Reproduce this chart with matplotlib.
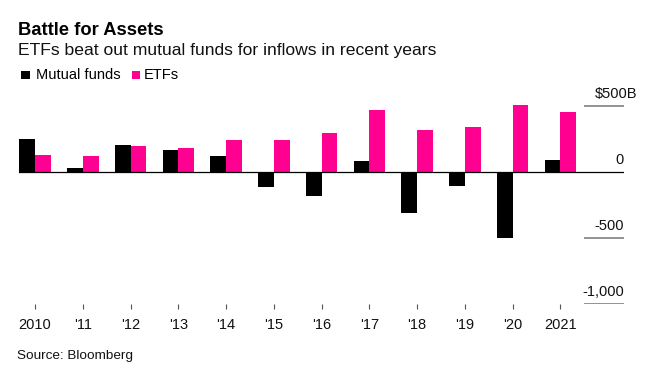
import matplotlib
matplotlib.use("Agg")
import matplotlib.pyplot as plt
import numpy as np
from matplotlib.patches import Rectangle

plt.rcParams['font.family'] = ['Liberation Sans', 'DejaVu Sans']

# Data (billions USD)
years = ["2010", "'11", "'12", "'13", "'14", "'15", "'16", "'17", "'18", "'19", "'20", "2021"]
mutual_funds = [249, 30, 204, 161, 121, -118, -186, 78, -312, -111, -500, 90]
etfs = [128, 121, 196, 181, 241, 241, 294, 467, 317, 337, 505, 452]
y_ticks = [500, 0, -500, -1000]
y_tick_labels = ["$500B", "0", "-500", "-1,000"]

BLACK = "#000000"
PINK = "#ff0090"
GRID = "#8a8a8a"

W, H = 646, 375
fig = plt.figure(figsize=(W / 100, H / 100), dpi=100)

# axes placement in pixels (from top-left)
ax_left, ax_right = 19, 624
y_min, y_max = -1000, 600
px_per_unit = 0.132
zero_px = 171.7
top_px = zero_px - y_max * px_per_unit
bot_px = zero_px - y_min * px_per_unit
ax = fig.add_axes([ax_left / W, 1 - bot_px / H, (ax_right - ax_left) / W, (bot_px - top_px) / H])

x = np.arange(len(years))
bw = 0.33
ax.bar(x - bw / 2, mutual_funds, width=bw, color=BLACK, linewidth=0, zorder=2)
ax.bar(x + bw / 2, etfs, width=bw, color=PINK, linewidth=0, zorder=2)

x_lo, x_hi = -0.335, 12.33
ax.set_xlim(x_lo, x_hi)
ax.set_ylim(y_min, y_max)

# zero line across the plot, short grey gridlines on the right
ax.axhline(0, color=BLACK, linewidth=0.9, zorder=3)
grid_x0 = 11.49
for v in y_ticks:
    if v != 0:
        ax.hlines(v, grid_x0, x_hi, color=GRID, linewidth=1.3, zorder=1)

for v, lab in zip(y_ticks, y_tick_labels):
    dx = 9.5 if lab.endswith("B") else 0
    ax.annotate(lab, xy=(x_hi, v), xytext=(dx, 5.8), textcoords="offset points",
                ha="right", va="baseline", fontsize=10.5, color="#111111")

for s in ax.spines.values():
    s.set_visible(False)
ax.set_yticks([])
ax.set_xticks(x)
ax.set_xticklabels(years, fontsize=10.5, color="#111111")
ax.tick_params(axis="x", length=3.6, width=0.8, color="#555555", pad=6.5)

# titles
fig.text(18 / W, 1 - 35 / H, "Battle for Assets", fontsize=13.2, fontweight="bold",
         ha="left", va="baseline")
fig.text(18 / W, 1 - 55 / H, "ETFs beat out mutual funds for inflows in recent years",
         fontsize=12.6, ha="left", va="baseline", color="#111111")

# legend
fig.patches.append(Rectangle((20.7 / W, 1 - 79.3 / H), 9.3 / W, 8.6 / H,
                             transform=fig.transFigure, facecolor=BLACK, edgecolor="none"))
fig.text(35.5 / W, 1 - 79.3 / H, "Mutual funds", fontsize=10.5, ha="left", va="baseline")
fig.patches.append(Rectangle((131.7 / W, 1 - 79.3 / H), 8.6 / W, 8.6 / H,
                             transform=fig.transFigure, facecolor=PINK, edgecolor="none"))
fig.text(143.3 / W, 1 - 79.3 / H, "ETFs", fontsize=10.5, ha="left", va="baseline")

fig.text(17.3 / W, 1 - 359.3 / H, "Source: Bloomberg", fontsize=9.7, ha="left",
         va="baseline", color="#111111")

fig.savefig("out.png", dpi=100)
